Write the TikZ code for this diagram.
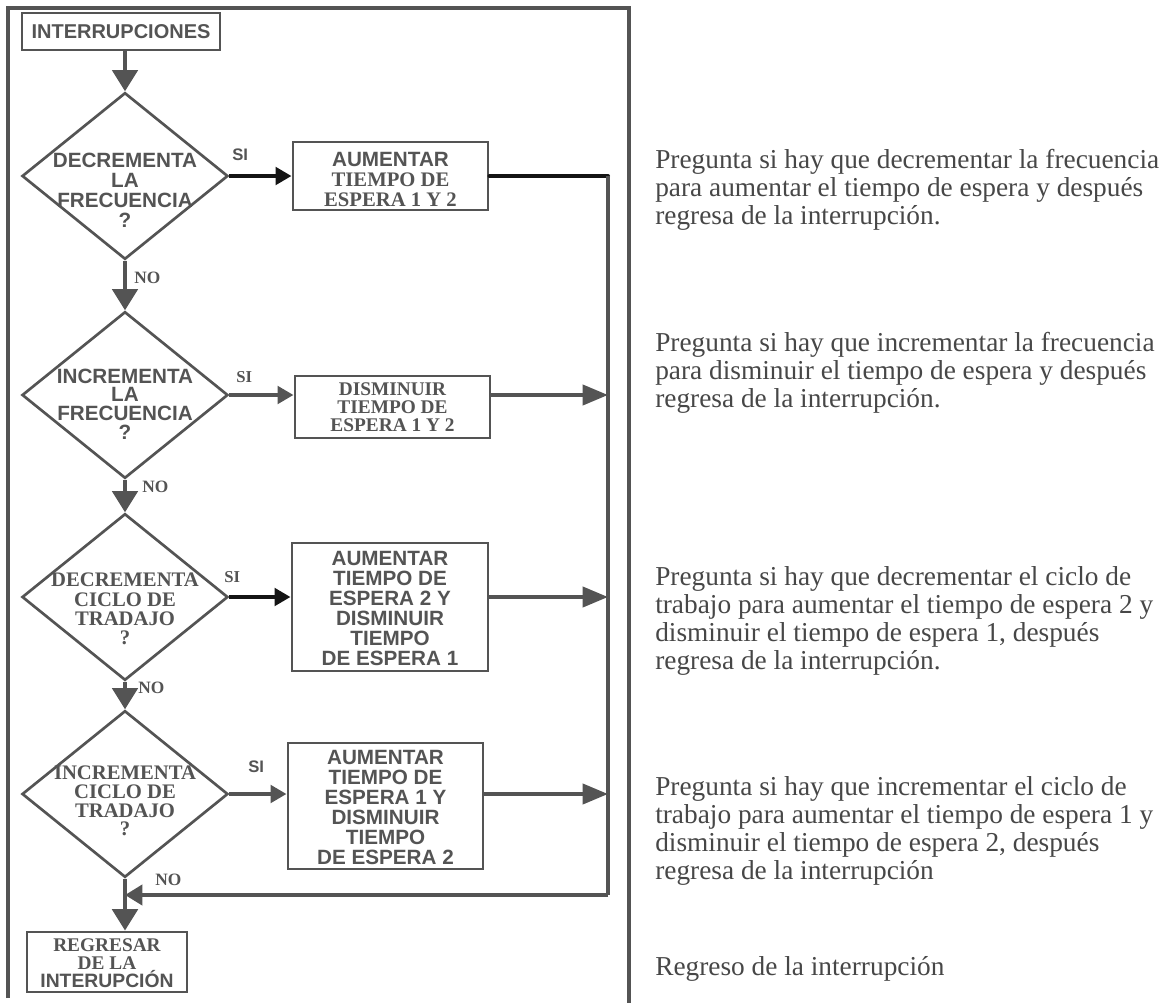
\documentclass[tikz,border=0pt]{standalone}
\usepackage{fontspec}
\setmainfont{Liberation Serif}
\setsansfont{Liberation Sans}
\usetikzlibrary{shapes.geometric,arrows.meta}
\definecolor{ink}{gray}{0.33}
\definecolor{deep}{gray}{0.08}
\definecolor{desc}{gray}{0.28}
\tikzset{
  frameline/.style={draw=ink,line width=2.8pt},
  box/.style={draw=ink,line width=2.2pt,rectangle,inner sep=0pt,fill=white},
  dec/.style={draw=ink,line width=2pt,shape=diamond,inner sep=0pt,
    minimum width=154.5pt,minimum height=125pt},
  chart/.style={align=center,inner sep=0pt,text=ink,
    font=\bfseries\fontsize{15.5}{15}\selectfont},
  tight/.style={align=center,inner sep=0pt,text=ink,
    font=\bfseries\fontsize{14}{13.2}\selectfont},
  tag/.style={inner sep=0pt,text=ink,anchor=west,
    font=\bfseries\fontsize{12.5}{12.5}\selectfont},
  notag/.style={inner sep=0pt,text=ink,anchor=west,
    font=\rmfamily\bfseries\fontsize{13}{13}\selectfont},
  note/.style={align=left,inner sep=0pt,text=desc,anchor=north west,
    font=\rmfamily\fontsize{20.5}{21}\selectfont},
  flow/.style={draw=ink,line width=3pt},
  darr/.style={flow,-{Triangle[length=16pt,width=19pt]}},
  inarr/.style={flow,-{Triangle[length=12pt,width=13pt]}},
  carr/.style={flow,-{Triangle[length=19pt,width=15pt]}},
  rarr/.style={flow,-{Triangle[length=13pt,width=15pt]}},
}
\begin{document}
\begin{tikzpicture}[x=0.75pt,y=-0.75pt]
\useasboundingbox[fill=white] (0,0) rectangle (1168,1003);

% outer frame of the chart
\draw[frameline] (8,998) -- (8,8) -- (629,8) -- (629,1003);

% process boxes
\node[box,minimum width=148.5pt,minimum height=27.75pt] (int) at (121,31.5) {};
\node[chart,font=\sffamily\bfseries\fontsize{15}{15}\selectfont] (intt) at (int) {INTERRUPCIONES};

\node[box,minimum width=146.25pt,minimum height=51pt] (b1) at (390.5,176) {};
\node[chart] (b1t) at (390.5,179) {{\sffamily AUMENTAR}\\TIEMPO DE\\ESPERA 1 Y 2};

\node[box,minimum width=146.25pt,minimum height=46.5pt] (b2) at (392.5,407) {};
\node[tight,font=\rmfamily\bfseries\fontsize{14.5}{13.4}\selectfont] (b2t) at (392.5,407) {DISMINUIR\\TIEMPO DE\\ESPERA 1 Y 2};

\node[box,minimum width=147pt,minimum height=96pt] (b3) at (390,607) {};
\node[chart,font=\sffamily\bfseries\fontsize{15.5}{15}\selectfont] (b3t) at (390,608) {AUMENTAR\\TIEMPO DE\\ESPERA 2 Y\\DISMINUIR\\TIEMPO\\DE ESPERA 1};

\node[box,minimum width=146.25pt,minimum height=94.5pt] (b4) at (385.5,806) {};
\node[chart,font=\sffamily\bfseries\fontsize{15.5}{15}\selectfont] (b4t) at (385.5,807) {AUMENTAR\\TIEMPO DE\\ESPERA 1 Y\\DISMINUIR\\TIEMPO\\DE ESPERA 2};

\node[box,minimum width=120pt,minimum height=45pt] (reg) at (107,962) {};
\node[tight,font=\rmfamily\bfseries\fontsize{14.5}{13.6}\selectfont] (regt) at (107,963) {REGRESAR\\DE LA\\{\sffamily INTERUPCIÓN}};

% decisions
\node[dec] (d1) at (125,176) {};
\node[chart,font=\sffamily\bfseries\fontsize{15.5}{15}\selectfont] (d1t) at (125,190) {DECREMENTA\\LA\\FRECUENCIA\\?};
\node[dec] (d2) at (125,395) {};
\node[chart,font=\sffamily\bfseries\fontsize{15.5}{14}\selectfont] (d2t) at (125,404) {INCREMENTA\\LA\\FRECUENCIA\\?};
\node[dec] (d3) at (125,597) {};
\node[chart,font=\rmfamily\bfseries\fontsize{15.5}{14.5}\selectfont] (d3t) at (125,609) {DECREMENTA\\CICLO DE\\TRADAJO\\?};
\node[dec] (d4) at (125,794) {};
\node[chart,font=\rmfamily\bfseries\fontsize{15.5}{14}\selectfont] (d4t) at (125,801) {INCREMENTA\\CICLO DE\\TRADAJO\\?};

% branch labels
\node[tag,font=\sffamily\bfseries\fontsize{12.5}{12.5}\selectfont] (si1) at (232,155) {SI};
\node[tag,font=\rmfamily\bfseries\fontsize{12.5}{12.5}\selectfont] (si2) at (236,377) {SI};
\node[tag,font=\rmfamily\bfseries\fontsize{12.5}{12.5}\selectfont] (si3) at (224,577) {SI};
\node[tag,font=\sffamily\bfseries\fontsize{12.5}{12.5}\selectfont] (si4) at (248,767) {SI};
\node[notag] (no1) at (134,278) {NO};
\node[notag] (no2) at (142,487) {NO};
\node[notag] (no3) at (138,688) {NO};
\node[notag] (no4) at (155,880) {NO};

% main vertical flow
\draw[darr] (d1.north |- int.south) -- (d1.north);
\draw[darr] (d1.south) -- (d2.north);
\draw[darr] (d2.south) -- (d3.north);
\draw[darr] (d3.south) -- (d4.north);
\draw[darr] (d4.south) -- (d4.south |- reg.north);

% yes branches
\draw[inarr,draw=deep] (d1.east) -- (d1.east -| b1.west);
\draw[inarr] (d2.east) -- (d2.east -| b2.west);
\draw[inarr,draw=deep] (d3.east) -- (d3.east -| b3.west);
\draw[inarr] (d4.east) -- (d4.east -| b4.west);

% common return line
\coordinate (ctop) at (608,176);
\coordinate (cbot) at (608,895);
\coordinate (join) at (125,895);
\draw[flow,draw=deep,line cap=round] (b1.east) -- (ctop);
\draw[flow] (ctop) -- (cbot);
\draw[carr] (d2.east -| b2.east) -- (d2.east -| ctop);
\draw[carr] (d3.east -| b3.east) -- (d3.east -| ctop);
\draw[carr] (d4.east -| b4.east) -- (d4.east -| ctop);
\draw[rarr] (cbot) -- (join);

% explanations
\node[note] (n1) at (655,149) {Pregunta si hay que decrementar la frecuencia\\para aumentar el tiempo de espera y después\\regresa de la interrupción.};
\node[note] (n2) at (655,332) {Pregunta si hay que incrementar la frecuencia\\para disminuir el tiempo de espera y después\\regresa de la interrupción.};
\node[note] (n3) at (655,566) {Pregunta si hay que decrementar el ciclo de\\trabajo para aumentar el tiempo de espera 2 y\\disminuir el tiempo de espera 1, después\\regresa de la interrupción.};
\node[note] (n4) at (655,776) {Pregunta si hay que incrementar el ciclo de\\trabajo para aumentar el tiempo de espera 1 y\\disminuir el tiempo de espera 2, después\\regresa de la interrupción};
\node[note] (n5) at (655,956) {Regreso de la interrupción};
\end{tikzpicture}
\end{document}
